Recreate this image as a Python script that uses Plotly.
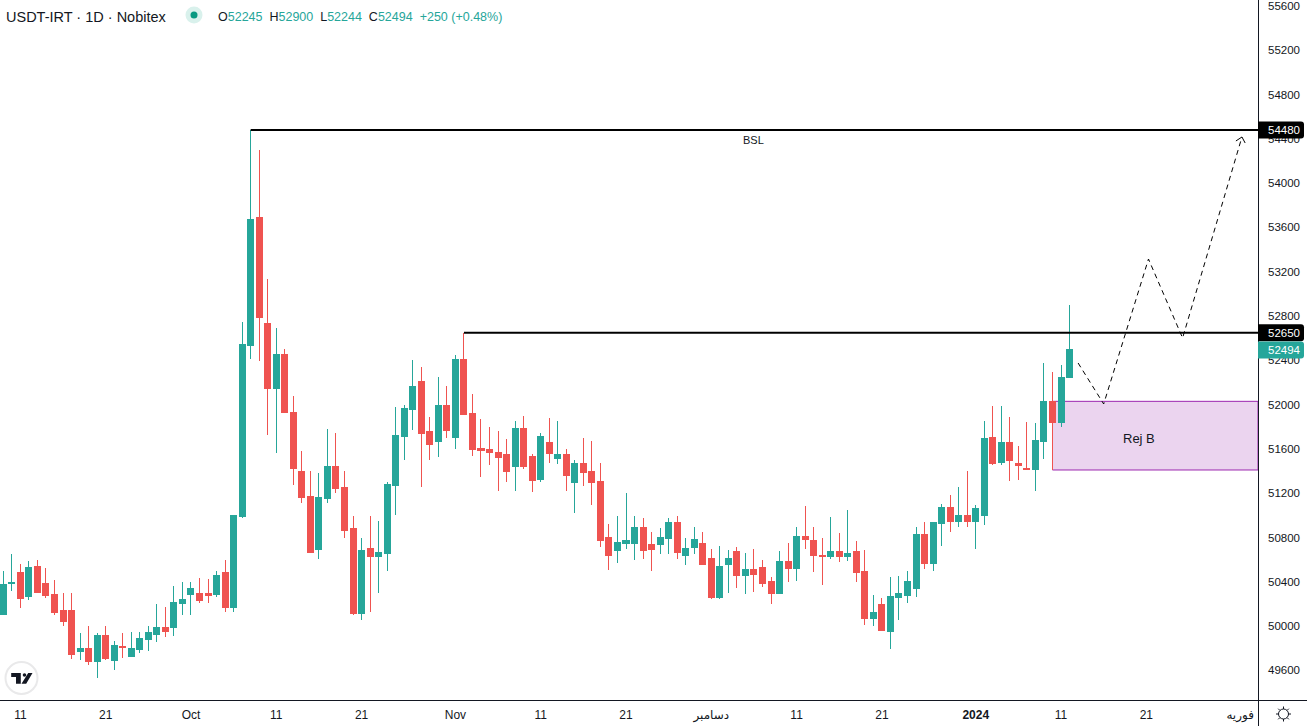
import pandas as pd
import plotly.graph_objects as go

GREEN = '#26a69a'
RED = '#ef5350'
TEXT = '#131722'

dates = pd.date_range('2023-09-09', '2024-01-12', freq='D')

opens = [50101, 50381, 50480, 50272, 50543, 50381, 50290, 50137, 50137, 49767, 49794, 49685, 49911, 49694, 49812, 49722,
         49785, 49875, 49929, 49992, 49992, 50200, 50290, 50299, 50299, 50290, 50480, 50164, 50986, 52530, 53694, 52737,
         52142, 52449, 51925, 51392, 51175, 50688, 51157, 51446, 51248, 50886, 50110, 50697, 50625, 50652, 51266, 51708,
         51952, 52205, 51762, 51663, 51988, 51699, 52412, 51916, 51600, 51591, 51564, 51546, 51446, 51789, 51528, 51320,
         51654, 51510, 51546, 51293, 51473, 51392, 51302, 50796, 50679, 50742, 50742, 50895, 50733, 50733, 50787, 50940,
         50634, 50706, 50742, 50615, 50263, 50561, 50670, 50453, 50507, 50534, 50399, 50299, 50588, 50516, 50805, 50769,
         50642, 50625, 50670, 50625, 50670, 50489, 50073, 50191, 49956, 50263, 50281, 50344, 50832, 50570, 50931, 51067,
         50949, 50995, 50949, 50995, 51699, 51482, 51654, 51473, 51428, 51410, 51663, 52033, 51843, 52245]
highs = [50498, 50652, 50561, 50588, 50597, 50525, 50417, 50299, 50299, 49938, 50001, 49938, 50001, 49866, 49938, 49947,
         49947, 50001, 50200, 50173, 50363, 50399, 50399, 50435, 50426, 50498, 50597, 50995, 52746, 54480, 54300, 53135,
         52692, 52503, 52078, 51582, 51401, 51383, 51780, 51744, 51401, 50995, 50796, 50995, 50949, 51302, 51979, 51997,
         52403, 52340, 51889, 52250, 52169, 52449, 52650, 52096, 51871, 51798, 51762, 51690, 51852, 51898, 51555, 51744,
         51880, 51852, 51600, 51500, 51699, 51672, 51473, 50922, 50995, 51202, 50995, 50977, 50850, 50886, 50977, 50995,
         50796, 50895, 50850, 50697, 50724, 50688, 50715, 50661, 50697, 50597, 50444, 50679, 50751, 50895, 51085, 50895,
         50796, 50986, 50841, 51049, 50769, 50688, 50281, 50254, 50444, 50453, 50498, 50895, 50940, 50940, 51103, 51184,
         51257, 51401, 51094, 51852, 51988, 51988, 51889, 51627, 51843, 51834, 52376, 52295, 52358, 52900]
lows = [50101, 50317, 50164, 50236, 50308, 50254, 50101, 50001, 49704, 49694, 49649, 49532, 49694, 49604, 49713, 49722,
        49758, 49776, 49857, 49902, 49911, 50101, 50101, 50209, 50209, 50263, 50128, 50128, 50977, 52413, 52394, 51726,
        51564, 51925, 51275, 51112, 50661, 50607, 51112, 51202, 50796, 50101, 50055, 50128, 50299, 50498, 51004, 51500,
        51771, 51257, 51500, 51528, 51699, 51600, 51907, 51537, 51347, 51455, 51220, 51302, 51220, 51419, 51211, 51302,
        51473, 51464, 51220, 51022, 51266, 51094, 50715, 50507, 50570, 50697, 50597, 50607, 50498, 50652, 50652, 50607,
        50552, 50652, 50552, 50245, 50245, 50299, 50344, 50290, 50308, 50354, 50200, 50299, 50399, 50408, 50697, 50489,
        50372, 50607, 50579, 50588, 50399, 50010, 50001, 49956, 49794, 50055, 50209, 50263, 50516, 50498, 50724, 50850,
        50895, 50895, 50697, 50913, 51455, 51455, 51311, 51320, 51410, 51220, 51509, 51410, 51798, 52244]
closes = [50372, 50390, 50254, 50534, 50308, 50281, 50119, 50046, 49740, 49794, 49685, 49911, 49704, 49821, 49803, 49794,
          49884, 49947, 49992, 49956, 50209, 50245, 50336, 50236, 50281, 50453, 50164, 50995, 52539, 53676, 52783, 52142,
          52449, 51925, 51419, 51166, 50661, 51166, 51446, 51239, 50868, 50110, 50679, 50625, 50661, 51275, 51717, 51961,
          52160, 51744, 51636, 51988, 51771, 52412, 51907, 51591, 51582, 51564, 51519, 51392, 51789, 51446, 51311, 51708,
          51555, 51546, 51356, 51473, 51383, 51293, 50769, 50642, 50751, 50769, 50895, 50679, 50688, 50796, 50940, 50661,
          50697, 50778, 50561, 50263, 50543, 50615, 50453, 50507, 50462, 50381, 50299, 50588, 50516, 50805, 50778, 50634,
          50625, 50670, 50625, 50652, 50480, 50073, 50119, 49965, 50272, 50299, 50399, 50832, 50570, 50940, 51067, 50949,
          50995, 50949, 51058, 51690, 51473, 51654, 51500, 51455, 51410, 51672, 52033, 51843, 52241, 52494]

price_ticks = list(range(49600, 56000, 400))
date_ticks = ['2023-09-11', '2023-09-21', '2023-10-01', '2023-10-11', '2023-10-21', '2023-11-01', '2023-11-11',
              '2023-11-21', '2023-12-01', '2023-12-11', '2023-12-21', '2024-01-01', '2024-01-11', '2024-01-21',
              '2024-02-01']
date_labels = ['11', '21', 'Oct', '11', '21', 'Nov', '11', '21', 'دسامبر', '11', '21', '<b>2024</b>', '11', '21', 'فوریه']

x_range = ['2023-09-08 14:43', '2024-02-03 02:10']
y_range = [49333, 55654]

# drawings on the chart
bsl_start, bsl_level = '2023-10-08', 54480
swing_start, swing_level = '2023-11-02', 52650
zone_start, zone_top, zone_bottom = '2024-01-10', 52030, 51410
path_dates = ['2024-01-13', '2024-01-16', '2024-01-21 06:00', '2024-01-25 06:00', '2024-02-01 05:00']
path_prices = [52376, 52006, 53315, 52602, 54417]
arrow_dates = ['2024-01-31 12:00', '2024-02-01 05:00', '2024-02-01 14:00']
arrow_prices = [54381, 54417, 54363]
last_close = 52494

fig = go.Figure()

fig.add_trace(go.Candlestick(
    x=dates, open=opens, high=highs, low=lows, close=closes,
    increasing=dict(line=dict(color=GREEN, width=1), fillcolor=GREEN),
    decreasing=dict(line=dict(color=RED, width=1), fillcolor=RED),
    whiskerwidth=0, showlegend=False, hoverinfo='skip',
))

fig.add_trace(go.Scatter(
    x=path_dates, y=path_prices, mode='lines',
    line=dict(color='#000000', width=1, dash='5px,4px'),
    showlegend=False, hoverinfo='skip',
))
fig.add_trace(go.Scatter(
    x=arrow_dates, y=arrow_prices, mode='lines',
    line=dict(color='#000000', width=1),
    showlegend=False, hoverinfo='skip',
))

# purple zone under the candles
fig.add_shape(type='rect', xref='x', yref='y', layer='below',
              x0=zone_start, x1=x_range[1], y0=zone_bottom, y1=zone_top,
              fillcolor='rgba(156,39,176,0.2)', line=dict(color='#9c27b0', width=1))

fig.add_shape(type='line', xref='x', yref='y', x0=bsl_start, x1=x_range[1], y0=bsl_level, y1=bsl_level,
              line=dict(color='#000000', width=2))
fig.add_shape(type='line', xref='x', yref='y', x0=swing_start, x1=x_range[1], y0=swing_level, y1=swing_level,
              line=dict(color='#000000', width=2))

# axis frame, it runs through the corner
fig.add_shape(type='line', xref='paper', yref='paper', x0=1258.5 / 1258, x1=1258.5 / 1258, y0=-26 / 700, y1=1,
              line=dict(color=TEXT, width=1))
fig.add_shape(type='line', xref='paper', yref='paper', x0=0, x1=1307 / 1258, y0=-0.5 / 700, y1=-0.5 / 700,
              line=dict(color=TEXT, width=1))

# price tags on the scale
tag_path = 'M 0,-8.5 L 43,-8.5 Q 46,-8.5 46,-5.5 L 46,5.5 Q 46,8.5 43,8.5 L 0,8.5 Z'
for level, colour in [(bsl_level, '#000000'), (swing_level, '#000000'), (last_close, GREEN)]:
    fig.add_shape(type='path', xref='paper', yref='y', xsizemode='pixel', ysizemode='pixel',
                  xanchor=1, yanchor=level, path=tag_path, fillcolor=colour, line=dict(width=0))
    fig.add_annotation(xref='paper', yref='y', x=1, y=level, xanchor='left', xshift=8, showarrow=False,
                       text=str(level), font=dict(color='#ffffff', size=11.5))

fig.add_annotation(xref='x', yref='y', x='2023-12-06', y=54390, text='BSL', showarrow=False,
                   font=dict(color=TEXT, size=11))
fig.add_annotation(xref='x', yref='y', x='2024-01-20 04:00', y=51690, text='Rej B', showarrow=False,
                   font=dict(color=TEXT, size=13))

# legend line
fig.add_annotation(xref='paper', yref='paper', x=4 / 1258, y=1 - 17 / 700, xanchor='left', yanchor='middle',
                   showarrow=False, text='USDT-IRT · 1D · Nobitex', font=dict(color=TEXT, size=14.5))
values = (f'O<span style="color:{GREEN}">52245</span>  H<span style="color:{GREEN}">52900</span>  '
          f'L<span style="color:{GREEN}">52244</span>  C<span style="color:{GREEN}">52494</span>  '
          f'<span style="color:{GREEN}">+250 (+0.48%)</span>')
fig.add_annotation(xref='paper', yref='paper', x=216 / 1258, y=1 - 17 / 700, xanchor='left', yanchor='middle',
                   showarrow=False, text=values, font=dict(color=TEXT, size=12.5))
fig.add_shape(type='circle', xref='paper', yref='paper', xanchor=194 / 1258, yanchor=1 - 15 / 700,
              xsizemode='pixel', ysizemode='pixel', x0=-8.5, x1=8.5, y0=-8.5, y1=8.5,
              fillcolor='#d9f1ec', line=dict(width=0))
fig.add_shape(type='circle', xref='paper', yref='paper', xanchor=194 / 1258, yanchor=1 - 15 / 700,
              xsizemode='pixel', ysizemode='pixel', x0=-3.5, x1=3.5, y0=-3.5, y1=3.5,
              fillcolor='#089981', line=dict(width=0))

# TradingView badge
fig.add_shape(type='circle', xref='paper', yref='paper', xanchor=21.5 / 1258, yanchor=1 - 678 / 700,
              xsizemode='pixel', ysizemode='pixel', x0=-16, x1=16, y0=-16, y1=16,
              fillcolor='#ffffff', line=dict(color='#e9e9ea', width=2))
fig.add_shape(type='path', xref='paper', yref='paper', xanchor=21.5 / 1258, yanchor=1 - 678 / 700,
              xsizemode='pixel', ysizemode='pixel', fillcolor=TEXT, line=dict(width=0),
              path='M -10.3,5 L -0.7,5 L -0.7,-5.7 L -5.5,-5.7 L -5.5,1 L -10.3,1 Z '
                   'M 11,5 L 6.7,5 L 0,-5.7 L 4.7,-5.7 Z')
fig.add_shape(type='circle', xref='paper', yref='paper', xanchor=21.5 / 1258, yanchor=1 - 678 / 700,
              xsizemode='pixel', ysizemode='pixel', x0=1.2, x1=4.8, y0=1.2, y1=4.8,
              fillcolor=TEXT, line=dict(width=0))

# theme toggle in the corner
fig.add_shape(type='circle', xref='paper', yref='paper', xanchor=1283.5 / 1258, yanchor=-14 / 700,
              xsizemode='pixel', ysizemode='pixel', x0=-5, x1=5, y0=-5, y1=5,
              fillcolor='#ffffff', line=dict(color=TEXT, width=1))
fig.add_shape(type='path', xref='paper', yref='paper', xanchor=1283.5 / 1258, yanchor=-14 / 700,
              xsizemode='pixel', ysizemode='pixel', line=dict(color=TEXT, width=1),
              path='M 0,5 L 0,7.5 M 0,-5 L 0,-7.5 M 5,0 L 7.5,0 M -5,0 L -7.5,0 '
                   'M 3.6,3.6 L 5.3,5.3 M -3.6,3.6 L -5.3,5.3 M 3.6,-3.6 L 5.3,-5.3 M -3.6,-3.6 L -5.3,-5.3')

fig.update_layout(
    width=1307,
    height=726,
    margin=dict(l=0, r=49, t=0, b=26),
    paper_bgcolor='#ffffff',
    plot_bgcolor='#ffffff',
    font=dict(family='Liberation Sans, DejaVu Sans, sans-serif', size=12, color=TEXT),
    showlegend=False,
    dragmode=False,
    boxgap=0.15,
    boxgroupgap=0.17,
    xaxis=dict(type='date', range=x_range, rangeslider=dict(visible=False), showgrid=False, zeroline=False,
               tickmode='array', tickvals=date_ticks, ticktext=date_labels, ticks='', ticklabelstandoff=6,
               tickangle=0, tickfont=dict(size=12, color=TEXT)),
    yaxis=dict(side='right', range=y_range, showgrid=False, zeroline=False, tickmode='array',
               tickvals=price_ticks, ticktext=[str(p) for p in price_ticks], ticks='', ticklabelstandoff=9,
               ticklabeloverflow='allow', tickfont=dict(size=11.5, color=TEXT)),
)

# candles snap to whole pixels, page has no margin
page_css = """
document.body.style.margin='0';document.body.style.overflow='hidden';
document.head.insertAdjacentHTML('beforeend','<style>.boxes path{shape-rendering:crispEdges !important;}</style>');
"""
fig.write_html('out.html', config=dict(displayModeBar=False), post_script=page_css)
